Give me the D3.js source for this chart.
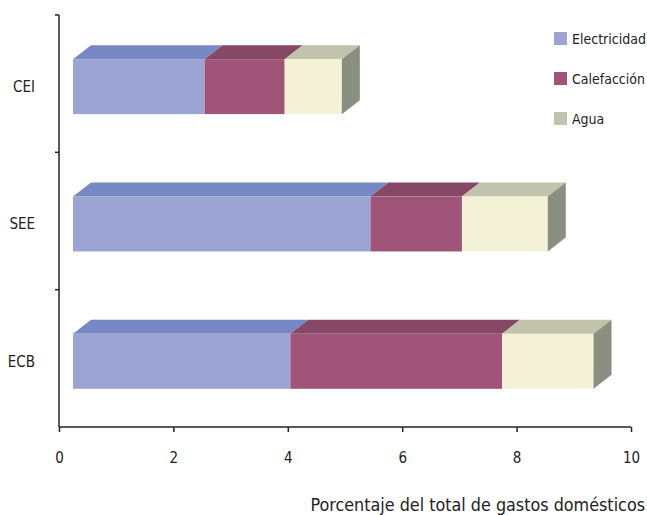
<!DOCTYPE html>
<html>
<head>
<meta charset="utf-8">
<script src="https://cdn.jsdelivr.net/npm/d3@7"></script>
<style>
  html, body { margin: 0; padding: 0; background: #fff; }
  svg { display: block; }
  text { font-family: "Liberation Sans Narrow", "DejaVu Sans Condensed", "Roboto Condensed", sans-serif; fill: #222; }
</style>
</head>
<body>
<script>
// Household expenditure shares (% of total), stacked by utility type
const categories = ["CEI", "SEE", "ECB"];
const seriesNames = ["Electricidad", "Calefacción", "Agua"];
const electricidad = [2.3, 5.2, 3.8];
const calefaccion = [1.4, 1.6, 3.7];
const agua = [1.0, 1.5, 1.6];
const xTicks = [0, 2, 4, 6, 8, 10];
const xTitle = "Porcentaje del total de gastos domésticos";

const W = 647, H = 515;
const plotLeft = 59, plotRight = 631, plotTop = 15, plotBottom = 427;

// 3D extrusion of each bar (towards the back, up and to the right)
const depthX = 18, depthY = 14;
const frontShiftX = 14, frontShiftY = 3;

// face colours per series: front, top, side
const faces = [
  { front: "#9ca4d4", top: "#7888c4", side: "#5e6ca0" },
  { front: "#a05578", top: "#864865", side: "#6e3a52" },
  { front: "#f3f2d6", top: "#c1c3ad", side: "#8b8f7f" }
];
const legendColors = ["#9ca4d4", "#a05578", "#c1c3ad"];

const rows = categories.map((c, i) => ({
  cat: c,
  values: [electricidad[i], calefaccion[i], agua[i]]
}));

const svg = d3.select("body").append("svg")
  .attr("width", W).attr("height", H);

const x = d3.scaleLinear().domain([0, 10]).range([plotLeft, plotRight]);
const y = d3.scaleBand().domain(categories).range([plotTop, plotBottom])
  .paddingInner(0.6).paddingOuter(0.3);

// value axis
const xAxis = svg.append("g")
  .attr("transform", `translate(0,${plotBottom})`)
  .call(d3.axisBottom(x).tickValues(xTicks).tickSize(5).tickPadding(20));
xAxis.select(".domain").attr("stroke", "#222").attr("stroke-width", 1.5)
  .attr("d", `M${plotLeft},0H${plotRight}`);
xAxis.selectAll(".tick line").attr("stroke", "#222").attr("stroke-width", 1.5);
xAxis.selectAll(".tick text").attr("font-size", 15).style("fill", "#222");

// category axis: ticks sit on the band boundaries
const yAxisG = svg.append("g").attr("transform", `translate(${plotLeft},0)`);
yAxisG.append("line")
  .attr("x1", 0).attr("x2", 0).attr("y1", plotTop).attr("y2", plotBottom)
  .attr("stroke", "#222").attr("stroke-width", 1.5);
const boundaries = categories.map(c => y(c) - y.step() * y.paddingInner() / 2);
yAxisG.selectAll(".ytick").data(boundaries).join("line")
  .attr("x1", -4).attr("x2", 0)
  .attr("y1", d => d).attr("y2", d => d)
  .attr("stroke", "#222").attr("stroke-width", 1.5);
yAxisG.selectAll(".ylabel").data(categories).join("text")
  .attr("x", -24)
  .attr("y", d => y(d) + y.bandwidth() / 2 + frontShiftY)
  .attr("dy", "0.35em")
  .attr("text-anchor", "end")
  .attr("font-size", 15)
  .text(d => d);

// stacked 3D bars
const stack = d3.stack().keys([0, 1, 2]).value((d, k) => d.values[k]);
const layers = stack(rows);

const barsG = svg.append("g");
rows.forEach((row, ri) => {
  const yTop = y(row.cat) + frontShiftY;
  const bh = y.bandwidth();
  layers.forEach((layer, si) => {
    const seg = layer[ri];
    const x0 = x(seg[0]) + frontShiftX;
    const x1 = x(seg[1]) + frontShiftX;
    const f = faces[si];
    // top face
    barsG.append("path")
      .attr("d", `M${x0},${yTop}L${x0 + depthX},${yTop - depthY}L${x1 + depthX},${yTop - depthY}L${x1},${yTop}Z`)
      .attr("fill", f.top);
    // front face
    barsG.append("rect")
      .attr("x", x0).attr("y", yTop)
      .attr("width", x1 - x0).attr("height", bh)
      .attr("fill", f.front);
    // right side of the outermost segment
    if (si === layers.length - 1) {
      barsG.append("path")
        .attr("d", `M${x1},${yTop}L${x1 + depthX},${yTop - depthY}L${x1 + depthX},${yTop - depthY + bh}L${x1},${yTop + bh}Z`)
        .attr("fill", f.side);
    }
  });
});

// legend
const legend = svg.append("g").attr("transform", "translate(554,32)");
const lg = legend.selectAll("g").data(seriesNames).join("g")
  .attr("transform", (d, i) => `translate(0,${i * 40})`);
lg.append("rect").attr("width", 13).attr("height", 13)
  .attr("fill", (d, i) => legendColors[i]);
lg.append("text").attr("x", 18).attr("y", 7).attr("dy", "0.35em")
  .attr("font-size", 14).text(d => d);

// axis title
svg.append("text")
  .attr("x", 645).attr("y", 511)
  .attr("text-anchor", "end")
  .attr("font-size", 17.8)
  .text(xTitle);
</script>
</body>
</html>
